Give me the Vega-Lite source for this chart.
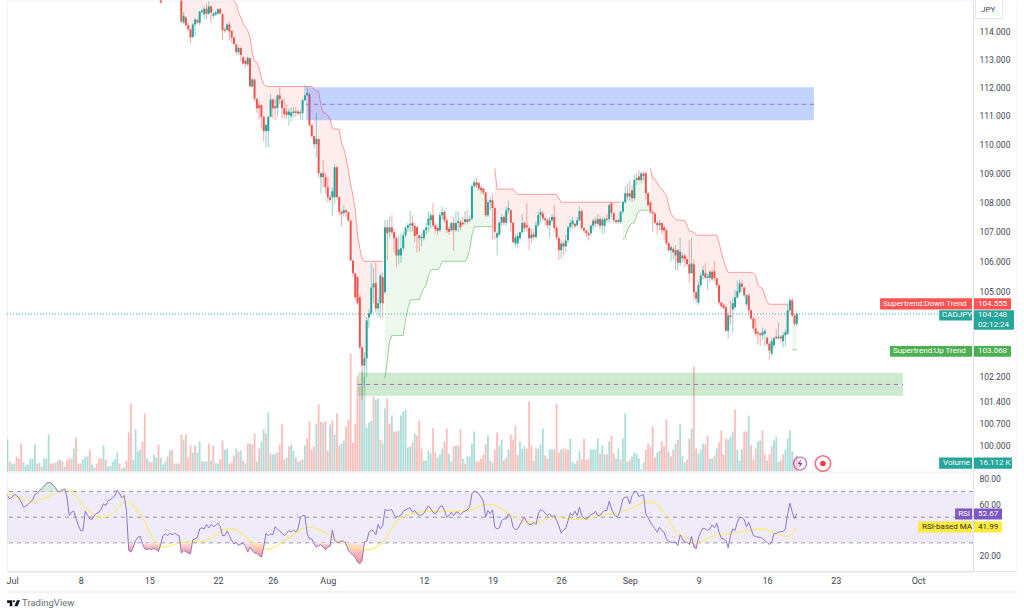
{
"$schema":"https://vega.github.io/schema/vega-lite/v6.json",
"background":"#ffffff",
"padding":{"left":4,"top":-1.5,"right":0,"bottom":0},
"spacing":1,
"bounds":"flush",
"config":{"view":{"stroke":"#f0f3fa"},"text":{"font":"Roboto"},"axis":{"labelFont":"Roboto","labelFontSize":8.5,"labelColor":"#434651"}},
"datasets":{
"candles":[
{"i":65,"o":115.2,"h":115.4,"l":115.0,"c":115.05,"st":117.2,"seg":"d1"},
{"i":74,"o":115.2,"h":115.3,"l":114.3,"c":114.36,"st":116.6,"seg":"d1"},
{"i":75,"o":114.32,"h":114.7,"l":114.28,"c":114.57,"st":116.5,"seg":"d1"},
{"i":76,"o":114.5,"h":114.55,"l":114.18,"c":114.22,"st":116.4,"seg":"d1"},
{"i":77,"o":114.22,"h":114.3,"l":114.0,"c":114.07,"st":116.3,"seg":"d1"},
{"i":78,"o":114.07,"h":114.1,"l":113.57,"c":113.78,"st":116.2,"seg":"d1"},
{"i":79,"o":113.8,"h":114.3,"l":113.75,"c":114.25,"st":116.1,"seg":"d1"},
{"i":80,"o":114.25,"h":114.5,"l":113.85,"c":114.43,"st":116.0,"seg":"d1"},
{"i":81,"o":114.4,"h":114.45,"l":114.25,"c":114.32,"st":115.95,"seg":"d1"},
{"i":82,"o":114.3,"h":114.75,"l":114.2,"c":114.72,"st":115.9,"seg":"d1"},
{"i":83,"o":114.7,"h":114.8,"l":114.65,"c":114.76,"st":115.85,"seg":"d1"},
{"i":84,"o":114.62,"h":114.9,"l":114.45,"c":114.82,"st":115.8,"seg":"d1"},
{"i":85,"o":114.82,"h":115.0,"l":114.45,"c":114.64,"st":115.75,"seg":"d1"},
{"i":86,"o":114.64,"h":115.1,"l":114.6,"c":114.9,"st":115.7,"seg":"d1"},
{"i":87,"o":114.9,"h":114.95,"l":114.3,"c":114.68,"st":115.65,"seg":"d1"},
{"i":88,"o":114.57,"h":114.7,"l":114.45,"c":114.64,"st":115.6,"seg":"d1"},
{"i":89,"o":114.6,"h":114.75,"l":114.55,"c":114.68,"st":115.55,"seg":"d1"},
{"i":90,"o":114.65,"h":114.85,"l":114.6,"c":114.8,"st":115.5,"seg":"d1"},
{"i":91,"o":114.8,"h":114.85,"l":114.6,"c":114.65,"st":115.45,"seg":"d1"},
{"i":92,"o":114.62,"h":114.65,"l":113.7,"c":114.04,"st":115.4,"seg":"d1"},
{"i":93,"o":114.07,"h":114.15,"l":113.95,"c":114.02,"st":115.35,"seg":"d1"},
{"i":94,"o":114.05,"h":114.3,"l":114.0,"c":114.25,"st":115.3,"seg":"d1"},
{"i":95,"o":114.25,"h":114.35,"l":113.7,"c":114.0,"st":115.25,"seg":"d1"},
{"i":96,"o":114.02,"h":114.05,"l":113.6,"c":113.77,"st":115.18,"seg":"d1"},
{"i":97,"o":113.78,"h":113.8,"l":113.5,"c":113.55,"st":115.11,"seg":"d1"},
{"i":98,"o":113.53,"h":113.55,"l":113.15,"c":113.25,"st":115.0,"seg":"d1"},
{"i":99,"o":113.25,"h":113.45,"l":113.15,"c":113.4,"st":114.68,"seg":"d1"},
{"i":100,"o":113.4,"h":113.45,"l":112.95,"c":113.15,"st":114.5,"seg":"d1"},
{"i":101,"o":113.07,"h":113.1,"l":112.8,"c":112.85,"st":114.29,"seg":"d1"},
{"i":102,"o":112.95,"h":113.0,"l":112.7,"c":112.82,"st":114.14,"seg":"d1"},
{"i":103,"o":112.82,"h":113.1,"l":112.75,"c":113.05,"st":114.04,"seg":"d1"},
{"i":104,"o":113.03,"h":113.05,"l":112.0,"c":112.04,"st":113.79,"seg":"d1"},
{"i":105,"o":112.03,"h":112.35,"l":112.0,"c":112.28,"st":113.25,"seg":"d1"},
{"i":106,"o":112.28,"h":112.3,"l":111.5,"c":111.6,"st":112.93,"seg":"d1"},
{"i":107,"o":111.6,"h":111.62,"l":111.1,"c":111.26,"st":112.89,"seg":"d1"},
{"i":108,"o":111.37,"h":111.5,"l":110.85,"c":111.26,"st":112.68,"seg":"d1"},
{"i":109,"o":111.37,"h":111.4,"l":110.55,"c":110.95,"st":112.32,"seg":"d1"},
{"i":110,"o":110.95,"h":111.0,"l":110.1,"c":110.46,"st":112.11,"seg":"d1"},
{"i":111,"o":110.46,"h":110.7,"l":109.9,"c":110.67,"st":112.04,"seg":"d1"},
{"i":112,"o":110.46,"h":111.0,"l":109.9,"c":110.95,"st":112.03,"seg":"d1"},
{"i":113,"o":110.95,"h":111.75,"l":110.95,"c":111.57,"st":112.03,"seg":"d1"},
{"i":114,"o":111.57,"h":111.6,"l":110.9,"c":111.26,"st":112.03,"seg":"d1"},
{"i":115,"o":111.33,"h":111.6,"l":110.85,"c":111.26,"st":112.03,"seg":"d1"},
{"i":116,"o":111.26,"h":111.75,"l":110.95,"c":111.72,"st":112.03,"seg":"d1"},
{"i":117,"o":111.72,"h":112.0,"l":111.4,"c":111.58,"st":112.03,"seg":"d1"},
{"i":118,"o":111.54,"h":111.6,"l":110.9,"c":111.26,"st":112.03,"seg":"d1"},
{"i":119,"o":111.26,"h":111.6,"l":110.9,"c":111.05,"st":112.03,"seg":"d1"},
{"i":120,"o":111.15,"h":111.4,"l":110.9,"c":111.02,"st":112.03,"seg":"d1"},
{"i":121,"o":111.02,"h":111.25,"l":110.65,"c":111.15,"st":112.03,"seg":"d1"},
{"i":122,"o":110.98,"h":111.3,"l":110.8,"c":111.12,"st":112.03,"seg":"d1"},
{"i":123,"o":111.09,"h":111.3,"l":110.95,"c":111.15,"st":112.03,"seg":"d1"},
{"i":124,"o":111.15,"h":111.3,"l":110.95,"c":111.09,"st":112.03,"seg":"d1"},
{"i":125,"o":111.15,"h":111.2,"l":111.0,"c":111.08,"st":112.03,"seg":"d1"},
{"i":126,"o":111.08,"h":111.2,"l":110.85,"c":111.12,"st":112.03,"seg":"d1"},
{"i":127,"o":111.09,"h":111.6,"l":110.85,"c":111.54,"st":112.03,"seg":"d1"},
{"i":128,"o":111.54,"h":112.1,"l":111.5,"c":111.72,"st":112.03,"seg":"d1"},
{"i":129,"o":111.72,"h":112.04,"l":111.7,"c":111.8,"st":112.03,"seg":"d1"},
{"i":130,"o":111.75,"h":111.8,"l":110.6,"c":110.67,"st":112.03,"seg":"d1"},
{"i":131,"o":110.67,"h":110.7,"l":110.25,"c":110.28,"st":112.03,"seg":"d1"},
{"i":132,"o":110.28,"h":110.3,"l":109.85,"c":110.0,"st":111.93,"seg":"d1"},
{"i":133,"o":110.0,"h":111.1,"l":109.55,"c":110.18,"st":111.86,"seg":"d1"},
{"i":134,"o":110.18,"h":110.2,"l":108.85,"c":109.0,"st":111.86,"seg":"d1"},
{"i":135,"o":108.86,"h":109.05,"l":108.3,"c":109.0,"st":111.37,"seg":"d1"},
{"i":136,"o":109.0,"h":109.45,"l":108.5,"c":108.86,"st":111.09,"seg":"d1"},
{"i":137,"o":108.86,"h":109.0,"l":108.3,"c":108.52,"st":111.09,"seg":"d1"},
{"i":138,"o":108.52,"h":108.86,"l":108.0,"c":108.17,"st":111.02,"seg":"d1"},
{"i":139,"o":108.17,"h":108.25,"l":108.0,"c":108.08,"st":110.88,"seg":"d1"},
{"i":140,"o":108.17,"h":108.5,"l":107.55,"c":108.38,"st":110.56,"seg":"d1"},
{"i":141,"o":108.17,"h":109.3,"l":107.95,"c":109.2,"st":110.53,"seg":"d1"},
{"i":142,"o":109.2,"h":109.25,"l":108.1,"c":108.17,"st":110.53,"seg":"d1"},
{"i":143,"o":108.17,"h":108.2,"l":107.55,"c":107.68,"st":110.53,"seg":"d1"},
{"i":144,"o":107.68,"h":107.72,"l":107.2,"c":107.6,"st":110.03,"seg":"d1"},
{"i":145,"o":107.63,"h":107.9,"l":107.5,"c":107.73,"st":109.86,"seg":"d1"},
{"i":146,"o":107.73,"h":107.75,"l":107.5,"c":107.66,"st":109.52,"seg":"d1"},
{"i":147,"o":107.66,"h":107.68,"l":107.35,"c":107.38,"st":109.1,"seg":"d1"},
{"i":148,"o":107.38,"h":107.4,"l":106.0,"c":106.03,"st":108.59,"seg":"d1"},
{"i":149,"o":106.03,"h":106.05,"l":105.5,"c":105.6,"st":108.24,"seg":"d1"},
{"i":150,"o":105.6,"h":105.6,"l":104.7,"c":104.8,"st":107.73,"seg":"d1"},
{"i":151,"o":105.47,"h":105.5,"l":104.55,"c":104.6,"st":106.88,"seg":"d1"},
{"i":152,"o":104.8,"h":104.9,"l":103.1,"c":103.15,"st":106.44,"seg":"d1"},
{"i":153,"o":103.15,"h":103.2,"l":101.45,"c":102.56,"st":106.07,"seg":"d1"},
{"i":154,"o":102.56,"h":103.0,"l":101.9,"c":102.8,"st":106.0,"seg":"d1"},
{"i":155,"o":102.8,"h":104.15,"l":102.2,"c":104.03,"st":106.0,"seg":"d1"},
{"i":156,"o":104.13,"h":104.4,"l":103.8,"c":104.27,"st":106.0,"seg":"d1"},
{"i":157,"o":104.27,"h":105.95,"l":104.2,"c":105.13,"st":106.0,"seg":"d1"},
{"i":158,"o":105.13,"h":105.8,"l":104.6,"c":105.27,"st":106.0,"seg":"d1"},
{"i":159,"o":105.27,"h":105.95,"l":104.3,"c":104.43,"st":106.0,"seg":"d1"},
{"i":160,"o":104.43,"h":104.8,"l":104.15,"c":104.6,"st":106.0,"seg":"d1"},
{"i":161,"o":104.6,"h":105.6,"l":104.1,"c":105.53,"st":106.0,"seg":"d1"},
{"i":162,"o":105.47,"h":105.6,"l":104.1,"c":104.6,"st":106.0,"seg":"d1"},
{"i":163,"o":104.97,"h":107.39,"l":104.9,"c":107.15,"st":102.15,"seg":"u1"},
{"i":164,"o":107.15,"h":107.4,"l":106.03,"c":106.95,"st":102.72,"seg":"u1"},
{"i":165,"o":107.0,"h":107.5,"l":106.8,"c":107.15,"st":103.33,"seg":"u1"},
{"i":166,"o":107.15,"h":107.56,"l":106.9,"c":106.98,"st":103.54,"seg":"u1"},
{"i":167,"o":106.98,"h":107.1,"l":106.3,"c":106.78,"st":103.54,"seg":"u1"},
{"i":168,"o":106.78,"h":106.85,"l":105.8,"c":106.2,"st":103.54,"seg":"u1"},
{"i":169,"o":106.2,"h":106.85,"l":105.9,"c":106.4,"st":103.54,"seg":"u1"},
{"i":170,"o":106.2,"h":106.95,"l":105.95,"c":106.44,"st":103.54,"seg":"u1"},
{"i":171,"o":106.44,"h":107.0,"l":106.35,"c":106.88,"st":103.54,"seg":"u1"},
{"i":172,"o":106.88,"h":107.2,"l":106.8,"c":107.12,"st":104.03,"seg":"u1"},
{"i":173,"o":107.12,"h":107.3,"l":107.0,"c":107.22,"st":104.43,"seg":"u1"},
{"i":174,"o":107.22,"h":107.7,"l":107.0,"c":107.27,"st":104.7,"seg":"u1"},
{"i":175,"o":107.29,"h":107.55,"l":107.0,"c":107.19,"st":104.72,"seg":"u1"},
{"i":176,"o":107.19,"h":107.3,"l":106.65,"c":106.85,"st":104.72,"seg":"u1"},
{"i":177,"o":107.15,"h":107.2,"l":106.3,"c":106.9,"st":104.72,"seg":"u1"},
{"i":178,"o":106.88,"h":106.9,"l":106.35,"c":106.78,"st":104.72,"seg":"u1"},
{"i":179,"o":106.78,"h":106.95,"l":106.5,"c":106.82,"st":104.97,"seg":"u1"},
{"i":180,"o":106.78,"h":107.1,"l":106.7,"c":107.05,"st":105.1,"seg":"u1"},
{"i":181,"o":107.05,"h":107.3,"l":106.9,"c":107.15,"st":105.2,"seg":"u1"},
{"i":182,"o":107.22,"h":107.7,"l":107.0,"c":107.45,"st":105.53,"seg":"u1"},
{"i":183,"o":107.39,"h":107.65,"l":107.1,"c":107.56,"st":105.7,"seg":"u1"},
{"i":184,"o":107.56,"h":107.97,"l":107.15,"c":107.22,"st":105.73,"seg":"u1"},
{"i":185,"o":107.22,"h":107.3,"l":106.95,"c":107.08,"st":105.73,"seg":"u1"},
{"i":186,"o":107.12,"h":107.2,"l":106.9,"c":107.02,"st":105.73,"seg":"u1"},
{"i":187,"o":107.05,"h":107.65,"l":107.0,"c":107.56,"st":105.8,"seg":"u1"},
{"i":188,"o":107.56,"h":107.85,"l":107.4,"c":107.67,"st":106.0,"seg":"u1"},
{"i":189,"o":107.67,"h":107.75,"l":107.3,"c":107.39,"st":106.0,"seg":"u1"},
{"i":190,"o":107.39,"h":107.5,"l":106.95,"c":107.05,"st":106.0,"seg":"u1"},
{"i":191,"o":107.1,"h":107.2,"l":106.9,"c":107.0,"st":106.0,"seg":"u1"},
{"i":192,"o":107.05,"h":107.35,"l":107.0,"c":107.29,"st":106.0,"seg":"u1"},
{"i":193,"o":107.29,"h":107.5,"l":106.35,"c":107.05,"st":106.0,"seg":"u1"},
{"i":194,"o":107.05,"h":107.7,"l":107.0,"c":107.29,"st":106.0,"seg":"u1"},
{"i":195,"o":107.29,"h":107.7,"l":107.0,"c":107.35,"st":106.0,"seg":"u1"},
{"i":196,"o":107.33,"h":107.4,"l":107.05,"c":107.15,"st":106.0,"seg":"u1"},
{"i":197,"o":107.3,"h":107.5,"l":107.2,"c":107.25,"st":106.0,"seg":"u1"},
{"i":198,"o":107.33,"h":107.7,"l":107.25,"c":107.42,"st":106.0,"seg":"u1"},
{"i":199,"o":107.42,"h":107.75,"l":107.25,"c":107.33,"st":106.13,"seg":"u1"},
{"i":200,"o":107.38,"h":107.55,"l":107.3,"c":107.44,"st":106.37,"seg":"u1"},
{"i":201,"o":107.44,"h":108.6,"l":107.4,"c":108.55,"st":106.88,"seg":"u1"},
{"i":202,"o":108.55,"h":108.8,"l":108.5,"c":108.69,"st":107.15,"seg":"u1"},
{"i":203,"o":108.69,"h":108.85,"l":108.5,"c":108.58,"st":107.17,"seg":"u1"},
{"i":204,"o":108.65,"h":108.7,"l":108.4,"c":108.47,"st":107.17,"seg":"u1"},
{"i":205,"o":108.5,"h":108.55,"l":108.3,"c":108.41,"st":107.17,"seg":"u1"},
{"i":206,"o":108.47,"h":108.5,"l":108.25,"c":108.33,"st":107.17,"seg":"u1"},
{"i":207,"o":108.33,"h":108.35,"l":107.5,"c":107.56,"st":107.17,"seg":"u1"},
{"i":208,"o":107.56,"h":108.1,"l":107.5,"c":108.0,"st":107.17,"seg":"u1"},
{"i":209,"o":108.0,"h":108.2,"l":107.75,"c":108.07,"st":107.17,"seg":"u1"},
{"i":210,"o":108.07,"h":108.3,"l":106.75,"c":107.8,"st":107.17,"seg":"u1"},
{"i":211,"o":107.8,"h":107.85,"l":106.75,"c":107.0,"st":109.17,"seg":"d2"},
{"i":212,"o":106.8,"h":107.0,"l":106.2,"c":106.95,"st":108.45,"seg":"d2"},
{"i":213,"o":106.9,"h":107.35,"l":106.85,"c":107.3,"st":108.45,"seg":"d2"},
{"i":214,"o":107.3,"h":107.6,"l":107.2,"c":107.5,"st":108.45,"seg":"d2"},
{"i":215,"o":107.5,"h":107.55,"l":107.2,"c":107.3,"st":108.45,"seg":"d2"},
{"i":216,"o":107.3,"h":107.85,"l":107.2,"c":107.73,"st":108.45,"seg":"d2"},
{"i":217,"o":107.73,"h":108.05,"l":107.6,"c":107.8,"st":108.45,"seg":"d2"},
{"i":218,"o":107.73,"h":107.75,"l":107.0,"c":107.3,"st":108.45,"seg":"d2"},
{"i":219,"o":107.3,"h":107.35,"l":106.6,"c":106.65,"st":108.45,"seg":"d2"},
{"i":220,"o":106.6,"h":106.9,"l":106.5,"c":106.8,"st":108.34,"seg":"d2"},
{"i":221,"o":106.6,"h":106.95,"l":106.47,"c":106.85,"st":108.27,"seg":"d2"},
{"i":222,"o":106.78,"h":107.0,"l":106.7,"c":106.98,"st":108.27,"seg":"d2"},
{"i":223,"o":106.98,"h":107.6,"l":106.95,"c":107.29,"st":108.27,"seg":"d2"},
{"i":224,"o":107.29,"h":107.35,"l":107.0,"c":107.12,"st":108.27,"seg":"d2"},
{"i":225,"o":107.22,"h":107.97,"l":107.0,"c":107.15,"st":108.27,"seg":"d2"},
{"i":226,"o":107.12,"h":107.15,"l":106.37,"c":106.78,"st":108.27,"seg":"d2"},
{"i":227,"o":106.78,"h":107.1,"l":106.6,"c":106.9,"st":108.27,"seg":"d2"},
{"i":228,"o":106.9,"h":107.0,"l":106.7,"c":106.82,"st":108.27,"seg":"d2"},
{"i":229,"o":106.82,"h":107.35,"l":106.75,"c":107.22,"st":108.27,"seg":"d2"},
{"i":230,"o":107.22,"h":107.7,"l":107.15,"c":107.56,"st":108.27,"seg":"d2"},
{"i":231,"o":107.56,"h":107.8,"l":107.3,"c":107.67,"st":108.27,"seg":"d2"},
{"i":232,"o":107.62,"h":107.7,"l":107.35,"c":107.45,"st":108.27,"seg":"d2"},
{"i":233,"o":107.45,"h":107.5,"l":107.2,"c":107.39,"st":108.27,"seg":"d2"},
{"i":234,"o":107.39,"h":107.45,"l":107.1,"c":107.22,"st":108.27,"seg":"d2"},
{"i":235,"o":107.22,"h":107.5,"l":106.8,"c":107.39,"st":108.27,"seg":"d2"},
{"i":236,"o":107.39,"h":107.6,"l":107.3,"c":107.5,"st":108.27,"seg":"d2"},
{"i":237,"o":107.5,"h":107.9,"l":107.0,"c":107.12,"st":108.27,"seg":"d2"},
{"i":238,"o":107.12,"h":107.2,"l":106.7,"c":106.8,"st":108.27,"seg":"d2"},
{"i":239,"o":106.78,"h":106.85,"l":106.05,"c":106.37,"st":108.14,"seg":"d2"},
{"i":240,"o":106.37,"h":106.7,"l":106.1,"c":106.6,"st":108.0,"seg":"d2"},
{"i":241,"o":106.6,"h":106.65,"l":106.2,"c":106.5,"st":108.0,"seg":"d2"},
{"i":242,"o":106.5,"h":106.9,"l":106.3,"c":106.7,"st":108.0,"seg":"d2"},
{"i":243,"o":106.71,"h":107.2,"l":106.6,"c":107.15,"st":108.0,"seg":"d2"},
{"i":244,"o":107.15,"h":107.4,"l":107.0,"c":107.3,"st":108.0,"seg":"d2"},
{"i":245,"o":107.25,"h":107.5,"l":107.1,"c":107.38,"st":108.0,"seg":"d2"},
{"i":246,"o":107.27,"h":107.3,"l":107.1,"c":107.18,"st":108.0,"seg":"d2"},
{"i":247,"o":107.22,"h":107.5,"l":107.15,"c":107.39,"st":108.0,"seg":"d2"},
{"i":248,"o":107.39,"h":107.85,"l":107.35,"c":107.7,"st":108.0,"seg":"d2"},
{"i":249,"o":107.7,"h":107.75,"l":107.05,"c":107.12,"st":108.0,"seg":"d2"},
{"i":250,"o":107.12,"h":107.15,"l":106.95,"c":107.03,"st":108.0,"seg":"d2"},
{"i":251,"o":107.03,"h":107.05,"l":106.8,"c":106.95,"st":108.0,"seg":"d2"},
{"i":252,"o":106.95,"h":107.0,"l":106.7,"c":106.88,"st":108.0,"seg":"d2"},
{"i":253,"o":106.95,"h":107.25,"l":106.85,"c":107.2,"st":108.0,"seg":"d2"},
{"i":254,"o":107.2,"h":107.45,"l":107.05,"c":107.38,"st":108.0,"seg":"d2"},
{"i":255,"o":107.38,"h":107.5,"l":107.15,"c":107.27,"st":108.0,"seg":"d2"},
{"i":256,"o":107.27,"h":107.6,"l":107.2,"c":107.43,"st":108.0,"seg":"d2"},
{"i":257,"o":107.43,"h":107.55,"l":107.05,"c":107.2,"st":108.0,"seg":"d2"},
{"i":258,"o":107.2,"h":107.5,"l":106.9,"c":107.4,"st":108.0,"seg":"d2"},
{"i":259,"o":107.2,"h":107.5,"l":106.95,"c":107.43,"st":108.0,"seg":"d2"},
{"i":260,"o":107.45,"h":107.6,"l":107.3,"c":107.4,"st":108.0,"seg":"d2"},
{"i":261,"o":107.42,"h":107.95,"l":107.3,"c":107.9,"st":108.0,"seg":"d2"},
{"i":262,"o":107.97,"h":108.0,"l":107.5,"c":107.63,"st":108.0,"seg":"d2"},
{"i":263,"o":107.63,"h":107.65,"l":107.3,"c":107.39,"st":108.0,"seg":"d2"},
{"i":264,"o":107.39,"h":107.42,"l":107.25,"c":107.33,"st":108.0,"seg":"d2"},
{"i":265,"o":107.33,"h":107.45,"l":107.25,"c":107.39,"st":108.0,"seg":"d2"},
{"i":266,"o":107.33,"h":107.72,"l":107.25,"c":107.68,"st":108.0,"seg":"d2"},
{"i":267,"o":107.68,"h":108.05,"l":107.6,"c":108.02,"st":106.73,"seg":"u2"},
{"i":268,"o":108.0,"h":108.55,"l":107.95,"c":108.31,"st":106.8,"seg":"u2"},
{"i":269,"o":108.31,"h":108.65,"l":108.1,"c":108.2,"st":107.05,"seg":"u2"},
{"i":270,"o":108.2,"h":108.75,"l":108.05,"c":108.31,"st":107.22,"seg":"u2"},
{"i":271,"o":108.41,"h":108.6,"l":108.0,"c":108.14,"st":107.29,"seg":"u2"},
{"i":272,"o":108.14,"h":108.95,"l":108.05,"c":108.76,"st":107.3,"seg":"u2"},
{"i":273,"o":108.76,"h":109.0,"l":108.6,"c":108.82,"st":107.56,"seg":"u2"},
{"i":274,"o":108.88,"h":109.1,"l":108.7,"c":108.76,"st":107.7,"seg":"u2"},
{"i":275,"o":108.76,"h":109.05,"l":108.65,"c":109.0,"st":107.73,"seg":"u2"},
{"i":276,"o":108.98,"h":109.05,"l":108.75,"c":108.9,"st":107.73,"seg":"u2"},
{"i":277,"o":109.0,"h":109.05,"l":108.1,"c":108.31,"st":107.73,"seg":"u2"},
{"i":278,"o":108.31,"h":108.35,"l":107.85,"c":107.9,"st":107.73,"seg":"u2"},
{"i":279,"o":108.0,"h":108.05,"l":107.6,"c":107.67,"st":109.17,"seg":"d3"},
{"i":280,"o":107.67,"h":107.75,"l":107.0,"c":107.62,"st":108.83,"seg":"d3"},
{"i":281,"o":107.62,"h":107.65,"l":107.25,"c":107.3,"st":108.8,"seg":"d3"},
{"i":282,"o":107.3,"h":107.35,"l":106.9,"c":107.22,"st":108.66,"seg":"d3"},
{"i":283,"o":107.22,"h":107.4,"l":107.05,"c":107.29,"st":108.52,"seg":"d3"},
{"i":284,"o":107.29,"h":107.3,"l":106.9,"c":107.05,"st":108.45,"seg":"d3"},
{"i":285,"o":107.15,"h":107.2,"l":106.7,"c":107.03,"st":108.34,"seg":"d3"},
{"i":286,"o":107.05,"h":107.1,"l":106.55,"c":106.61,"st":108.24,"seg":"d3"},
{"i":287,"o":106.61,"h":106.65,"l":106.3,"c":106.37,"st":107.9,"seg":"d3"},
{"i":288,"o":106.37,"h":106.55,"l":106.0,"c":106.47,"st":107.6,"seg":"d3"},
{"i":289,"o":106.42,"h":106.5,"l":106.05,"c":106.3,"st":107.5,"seg":"d3"},
{"i":290,"o":106.2,"h":106.55,"l":105.7,"c":106.37,"st":107.42,"seg":"d3"},
{"i":291,"o":106.37,"h":106.4,"l":105.7,"c":105.95,"st":107.39,"seg":"d3"},
{"i":292,"o":105.95,"h":106.8,"l":105.85,"c":106.33,"st":107.39,"seg":"d3"},
{"i":293,"o":106.2,"h":106.3,"l":105.95,"c":106.1,"st":107.39,"seg":"d3"},
{"i":294,"o":106.2,"h":106.25,"l":105.8,"c":106.07,"st":107.39,"seg":"d3"},
{"i":295,"o":106.07,"h":106.15,"l":105.85,"c":105.9,"st":107.22,"seg":"d3"},
{"i":296,"o":105.9,"h":106.7,"l":105.27,"c":105.6,"st":107.02,"seg":"d3"},
{"i":297,"o":105.6,"h":106.8,"l":105.6,"c":105.93,"st":107.0,"seg":"d3"},
{"i":298,"o":105.9,"h":106.05,"l":104.7,"c":104.97,"st":106.98,"seg":"d3"},
{"i":299,"o":104.97,"h":105.0,"l":104.6,"c":104.75,"st":106.88,"seg":"d3"},
{"i":300,"o":104.63,"h":105.3,"l":104.55,"c":105.2,"st":106.88,"seg":"d3"},
{"i":301,"o":105.2,"h":105.6,"l":105.15,"c":105.53,"st":106.88,"seg":"d3"},
{"i":302,"o":105.53,"h":105.85,"l":105.4,"c":105.7,"st":106.88,"seg":"d3"},
{"i":303,"o":105.6,"h":105.95,"l":105.4,"c":105.45,"st":106.88,"seg":"d3"},
{"i":304,"o":105.45,"h":105.6,"l":105.05,"c":105.5,"st":106.88,"seg":"d3"},
{"i":305,"o":105.45,"h":105.7,"l":105.3,"c":105.65,"st":106.88,"seg":"d3"},
{"i":306,"o":105.65,"h":105.75,"l":105.35,"c":105.4,"st":106.88,"seg":"d3"},
{"i":307,"o":105.67,"h":106.0,"l":105.35,"c":105.43,"st":106.88,"seg":"d3"},
{"i":308,"o":105.43,"h":105.45,"l":105.1,"c":105.2,"st":106.88,"seg":"d3"},
{"i":309,"o":105.2,"h":105.25,"l":104.55,"c":104.63,"st":106.64,"seg":"d3"},
{"i":310,"o":104.63,"h":104.65,"l":104.45,"c":104.5,"st":106.3,"seg":"d3"},
{"i":311,"o":104.55,"h":104.6,"l":104.4,"c":104.45,"st":106.03,"seg":"d3"},
{"i":312,"o":104.47,"h":104.5,"l":103.65,"c":103.7,"st":105.8,"seg":"d3"},
{"i":313,"o":103.7,"h":104.3,"l":103.45,"c":104.2,"st":105.63,"seg":"d3"},
{"i":314,"o":104.2,"h":104.7,"l":103.9,"c":104.15,"st":105.63,"seg":"d3"},
{"i":315,"o":104.4,"h":104.8,"l":103.65,"c":104.6,"st":105.63,"seg":"d3"},
{"i":316,"o":104.47,"h":105.05,"l":104.4,"c":104.8,"st":105.63,"seg":"d3"},
{"i":317,"o":104.8,"h":105.35,"l":104.75,"c":105.0,"st":105.63,"seg":"d3"},
{"i":318,"o":104.97,"h":105.4,"l":104.9,"c":105.27,"st":105.63,"seg":"d3"},
{"i":319,"o":105.25,"h":105.35,"l":105.0,"c":105.15,"st":105.63,"seg":"d3"},
{"i":320,"o":105.13,"h":105.15,"l":104.8,"c":104.87,"st":105.63,"seg":"d3"},
{"i":321,"o":104.57,"h":104.9,"l":104.5,"c":104.87,"st":105.63,"seg":"d3"},
{"i":322,"o":104.87,"h":104.95,"l":104.2,"c":104.37,"st":105.63,"seg":"d3"},
{"i":323,"o":104.37,"h":104.4,"l":104.05,"c":104.1,"st":105.63,"seg":"d3"},
{"i":324,"o":104.1,"h":104.15,"l":103.7,"c":103.77,"st":105.6,"seg":"d3"},
{"i":325,"o":103.77,"h":104.1,"l":103.5,"c":103.6,"st":105.53,"seg":"d3"},
{"i":326,"o":103.65,"h":103.7,"l":103.25,"c":103.6,"st":105.2,"seg":"d3"},
{"i":327,"o":103.6,"h":103.65,"l":103.2,"c":103.55,"st":105.13,"seg":"d3"},
{"i":328,"o":103.55,"h":103.8,"l":103.4,"c":103.65,"st":105.1,"seg":"d3"},
{"i":329,"o":103.6,"h":103.75,"l":103.2,"c":103.7,"st":104.87,"seg":"d3"},
{"i":330,"o":103.47,"h":103.5,"l":103.2,"c":103.27,"st":104.63,"seg":"d3"},
{"i":331,"o":103.27,"h":103.3,"l":102.75,"c":103.05,"st":104.57,"seg":"d3"},
{"i":332,"o":102.95,"h":103.45,"l":102.85,"c":103.35,"st":104.57,"seg":"d3"},
{"i":333,"o":103.22,"h":103.5,"l":103.1,"c":103.45,"st":104.57,"seg":"d3"},
{"i":334,"o":103.5,"h":103.75,"l":103.4,"c":103.45,"st":104.57,"seg":"d3"},
{"i":335,"o":103.45,"h":103.95,"l":103.4,"c":103.5,"st":104.57,"seg":"d3"},
{"i":336,"o":103.5,"h":103.55,"l":103.3,"c":103.45,"st":104.57,"seg":"d3"},
{"i":337,"o":103.35,"h":103.65,"l":103.15,"c":103.55,"st":104.57,"seg":"d3"},
{"i":338,"o":103.55,"h":103.75,"l":103.2,"c":103.65,"st":104.57,"seg":"d3"},
{"i":339,"o":103.6,"h":104.55,"l":103.55,"c":104.37,"st":104.57,"seg":"d3"},
{"i":340,"o":104.37,"h":104.78,"l":104.3,"c":104.7,"st":104.57,"seg":"d3"},
{"i":341,"o":104.7,"h":104.8,"l":104.15,"c":104.2,"st":103.07,"seg":"u3"},
{"i":342,"o":104.2,"h":104.25,"l":103.85,"c":103.93,"st":103.07,"seg":"u3"},
{"i":343,"o":103.93,"h":104.35,"l":103.85,"c":104.25,"st":103.07,"seg":"u3"}
],
"volume":[
{"i":-2,"v":32,"d":"u"},{"i":-1,"v":10,"d":"d"},{"i":0,"v":8,"d":"u"},{"i":1,"v":8,"d":"u"},{"i":2,"v":15,"d":"d"},{"i":3,"v":13,"d":"d"},{"i":4,"v":28,"d":"d"},{"i":5,"v":9,"d":"u"},{"i":6,"v":6,"d":"u"},{"i":7,"v":7,"d":"u"},{"i":8,"v":13,"d":"u"},{"i":9,"v":13,"d":"u"},{"i":10,"v":27,"d":"u"},{"i":11,"v":8,"d":"d"},{"i":12,"v":9,"d":"u"},{"i":13,"v":5,"d":"d"},{"i":14,"v":13,"d":"u"},{"i":15,"v":13,"d":"u"},{"i":16,"v":37,"d":"u"},{"i":17,"v":8,"d":"d"},{"i":18,"v":8,"d":"d"},{"i":19,"v":9,"d":"u"},{"i":20,"v":11,"d":"d"},{"i":21,"v":12,"d":"u"},{"i":22,"v":10,"d":"d"},{"i":23,"v":5,"d":"u"},{"i":24,"v":11,"d":"d"},{"i":25,"v":13,"d":"d"},{"i":26,"v":13,"d":"d"},{"i":27,"v":23,"d":"u"},{"i":28,"v":34,"d":"d"},{"i":29,"v":8,"d":"d"},{"i":30,"v":8,"d":"d"},{"i":31,"v":12,"d":"u"},{"i":32,"v":15,"d":"u"},{"i":33,"v":15,"d":"u"},{"i":34,"v":22,"d":"d"},{"i":35,"v":7,"d":"u"},{"i":36,"v":4,"d":"u"},{"i":37,"v":8,"d":"d"},{"i":38,"v":13,"d":"d"},{"i":39,"v":13,"d":"d"},{"i":40,"v":26,"d":"u"},{"i":41,"v":12,"d":"d"},{"i":42,"v":5,"d":"u"},{"i":43,"v":6,"d":"u"},{"i":44,"v":10,"d":"u"},{"i":45,"v":13,"d":"u"},{"i":46,"v":19,"d":"u"},{"i":47,"v":8,"d":"d"},{"i":48,"v":3,"d":"u"},{"i":49,"v":4,"d":"u"},
{"i":50,"v":11,"d":"d"},{"i":51,"v":39,"d":"d"},{"i":52,"v":68,"d":"d"},{"i":53,"v":12,"d":"u"},{"i":54,"v":42,"d":"u"},{"i":55,"v":20,"d":"u"},{"i":56,"v":22,"d":"u"},{"i":57,"v":30,"d":"d"},{"i":58,"v":58,"d":"d"},{"i":59,"v":13,"d":"u"},{"i":60,"v":10,"d":"d"},{"i":61,"v":9,"d":"d"},{"i":62,"v":17,"d":"u"},{"i":63,"v":14,"d":"u"},{"i":64,"v":27,"d":"d"},{"i":65,"v":14,"d":"u"},{"i":66,"v":7,"d":"u"},{"i":67,"v":10,"d":"u"},{"i":68,"v":15,"d":"d"},{"i":69,"v":21,"d":"u"},{"i":70,"v":22,"d":"d"},{"i":71,"v":8,"d":"d"},{"i":72,"v":8,"d":"u"},{"i":73,"v":8,"d":"d"},{"i":74,"v":37,"d":"d"},{"i":75,"v":32,"d":"u"},{"i":76,"v":37,"d":"d"},{"i":77,"v":14,"d":"d"},{"i":78,"v":26,"d":"d"},{"i":79,"v":19,"d":"u"},{"i":80,"v":26,"d":"d"},{"i":81,"v":19,"d":"u"},{"i":82,"v":30,"d":"u"},{"i":83,"v":10,"d":"d"},{"i":84,"v":10,"d":"u"},{"i":85,"v":10,"d":"u"},{"i":86,"v":28,"d":"d"},{"i":87,"v":11,"d":"u"},{"i":88,"v":26,"d":"d"},{"i":89,"v":8,"d":"u"},{"i":90,"v":8,"d":"u"},{"i":91,"v":12,"d":"d"},{"i":92,"v":31,"d":"d"},{"i":93,"v":22,"d":"u"},{"i":94,"v":23,"d":"u"},{"i":95,"v":8,"d":"d"},{"i":96,"v":9,"d":"d"},{"i":97,"v":16,"d":"d"},{"i":98,"v":23,"d":"u"},{"i":99,"v":20,"d":"d"},
{"i":100,"v":21,"d":"u"},{"i":101,"v":11,"d":"d"},{"i":102,"v":8,"d":"u"},{"i":103,"v":28,"d":"d"},{"i":104,"v":28,"d":"u"},{"i":105,"v":27,"d":"d"},{"i":106,"v":38,"d":"d"},{"i":107,"v":10,"d":"u"},{"i":108,"v":23,"d":"d"},{"i":109,"v":30,"d":"u"},{"i":110,"v":42,"d":"u"},{"i":111,"v":38,"d":"d"},{"i":112,"v":59,"d":"u"},{"i":113,"v":18,"d":"d"},{"i":114,"v":17,"d":"u"},{"i":115,"v":18,"d":"u"},{"i":116,"v":19,"d":"d"},{"i":117,"v":27,"d":"d"},{"i":118,"v":47,"d":"d"},{"i":119,"v":12,"d":"d"},{"i":120,"v":14,"d":"u"},{"i":121,"v":25,"d":"d"},{"i":122,"v":27,"d":"u"},{"i":123,"v":21,"d":"u"},{"i":124,"v":14,"d":"d"},{"i":125,"v":10,"d":"u"},{"i":126,"v":11,"d":"u"},{"i":127,"v":12,"d":"d"},{"i":128,"v":26,"d":"u"},{"i":129,"v":33,"d":"d"},{"i":130,"v":50,"d":"d"},{"i":131,"v":22,"d":"d"},{"i":132,"v":25,"d":"d"},{"i":133,"v":48,"d":"u"},{"i":134,"v":67,"d":"d"},{"i":135,"v":50,"d":"d"},{"i":136,"v":49,"d":"u"},{"i":137,"v":50,"d":"d"},{"i":138,"v":21,"d":"d"},{"i":139,"v":47,"d":"u"},{"i":140,"v":51,"d":"d"},{"i":141,"v":37,"d":"u"},{"i":142,"v":58,"d":"d"},{"i":143,"v":26,"d":"d"},{"i":144,"v":28,"d":"u"},{"i":145,"v":31,"d":"u"},{"i":146,"v":45,"d":"d"},{"i":147,"v":52,"d":"d"},{"i":148,"v":118,"d":"d"},{"i":149,"v":29,"d":"d"},
{"i":150,"v":48,"d":"d"},{"i":151,"v":95,"d":"d"},{"i":152,"v":85,"d":"d"},{"i":153,"v":100,"d":"u"},{"i":154,"v":95,"d":"u"},{"i":155,"v":44,"d":"u"},{"i":156,"v":49,"d":"u"},{"i":157,"v":51,"d":"u"},{"i":158,"v":75,"d":"d"},{"i":159,"v":72,"d":"u"},{"i":160,"v":73,"d":"u"},{"i":161,"v":32,"d":"d"},{"i":162,"v":28,"d":"u"},{"i":163,"v":63,"d":"u"},{"i":164,"v":73,"d":"d"},{"i":165,"v":48,"d":"d"},{"i":166,"v":56,"d":"u"},{"i":167,"v":40,"d":"d"},{"i":168,"v":40,"d":"d"},{"i":169,"v":41,"d":"u"},{"i":170,"v":56,"d":"u"},{"i":171,"v":60,"d":"u"},{"i":172,"v":62,"d":"u"},{"i":173,"v":24,"d":"u"},{"i":174,"v":25,"d":"u"},{"i":175,"v":29,"d":"d"},{"i":176,"v":38,"d":"u"},{"i":177,"v":36,"d":"d"},{"i":178,"v":51,"d":"d"},{"i":179,"v":23,"d":"d"},{"i":180,"v":11,"d":"u"},{"i":181,"v":11,"d":"u"},{"i":182,"v":21,"d":"u"},{"i":183,"v":18,"d":"u"},{"i":184,"v":43,"d":"d"},{"i":185,"v":19,"d":"d"},{"i":186,"v":14,"d":"u"},{"i":187,"v":17,"d":"u"},{"i":188,"v":23,"d":"u"},{"i":189,"v":30,"d":"d"},{"i":190,"v":43,"d":"d"},{"i":191,"v":18,"d":"u"},{"i":192,"v":10,"d":"u"},{"i":193,"v":25,"d":"d"},{"i":194,"v":26,"d":"u"},{"i":195,"v":26,"d":"d"},{"i":196,"v":42,"d":"d"},{"i":197,"v":13,"d":"u"},{"i":198,"v":8,"d":"d"},{"i":199,"v":15,"d":"u"},
{"i":200,"v":15,"d":"u"},{"i":201,"v":28,"d":"u"},{"i":202,"v":40,"d":"u"},{"i":203,"v":10,"d":"d"},{"i":204,"v":10,"d":"d"},{"i":205,"v":13,"d":"d"},{"i":206,"v":17,"d":"d"},{"i":207,"v":27,"d":"d"},{"i":208,"v":36,"d":"u"},{"i":209,"v":11,"d":"d"},{"i":210,"v":9,"d":"u"},{"i":211,"v":22,"d":"d"},{"i":212,"v":39,"d":"d"},{"i":213,"v":26,"d":"u"},{"i":214,"v":32,"d":"u"},{"i":215,"v":11,"d":"d"},{"i":216,"v":14,"d":"d"},{"i":217,"v":22,"d":"u"},{"i":218,"v":37,"d":"d"},{"i":219,"v":32,"d":"d"},{"i":220,"v":46,"d":"d"},{"i":221,"v":17,"d":"d"},{"i":222,"v":30,"d":"u"},{"i":223,"v":23,"d":"u"},{"i":224,"v":25,"d":"u"},{"i":225,"v":23,"d":"d"},{"i":226,"v":70,"d":"d"},{"i":227,"v":26,"d":"d"},{"i":228,"v":11,"d":"u"},{"i":229,"v":23,"d":"d"},{"i":230,"v":23,"d":"u"},{"i":231,"v":27,"d":"u"},{"i":232,"v":43,"d":"u"},{"i":233,"v":16,"d":"d"},{"i":234,"v":13,"d":"d"},{"i":235,"v":22,"d":"u"},{"i":236,"v":22,"d":"u"},{"i":237,"v":22,"d":"d"},{"i":238,"v":68,"d":"d"},{"i":239,"v":19,"d":"d"},{"i":240,"v":22,"d":"u"},{"i":241,"v":23,"d":"d"},{"i":242,"v":22,"d":"d"},{"i":243,"v":22,"d":"d"},{"i":244,"v":33,"d":"u"},{"i":245,"v":9,"d":"u"},{"i":246,"v":8,"d":"u"},{"i":247,"v":11,"d":"d"},{"i":248,"v":21,"d":"u"},{"i":249,"v":12,"d":"d"},
{"i":250,"v":33,"d":"d"},{"i":251,"v":12,"d":"d"},{"i":252,"v":13,"d":"d"},{"i":253,"v":22,"d":"u"},{"i":254,"v":22,"d":"u"},{"i":255,"v":22,"d":"u"},{"i":256,"v":33,"d":"u"},{"i":257,"v":18,"d":"d"},{"i":258,"v":26,"d":"u"},{"i":259,"v":17,"d":"u"},{"i":260,"v":17,"d":"d"},{"i":261,"v":30,"d":"u"},{"i":262,"v":36,"d":"d"},{"i":263,"v":18,"d":"d"},{"i":264,"v":13,"d":"u"},{"i":265,"v":23,"d":"u"},{"i":266,"v":12,"d":"d"},{"i":267,"v":33,"d":"u"},{"i":268,"v":58,"d":"u"},{"i":269,"v":10,"d":"u"},{"i":270,"v":12,"d":"d"},{"i":271,"v":15,"d":"u"},{"i":272,"v":19,"d":"u"},{"i":273,"v":18,"d":"u"},{"i":274,"v":13,"d":"u"},{"i":275,"v":2,"d":"u"},{"i":276,"v":9,"d":"u"},{"i":277,"v":22,"d":"d"},{"i":278,"v":28,"d":"d"},{"i":279,"v":25,"d":"d"},{"i":280,"v":45,"d":"d"},{"i":281,"v":14,"d":"d"},{"i":282,"v":19,"d":"u"},{"i":283,"v":21,"d":"u"},{"i":284,"v":30,"d":"d"},{"i":285,"v":25,"d":"d"},{"i":286,"v":52,"d":"d"},{"i":287,"v":20,"d":"u"},{"i":288,"v":15,"d":"d"},{"i":289,"v":22,"d":"d"},{"i":290,"v":28,"d":"u"},{"i":291,"v":32,"d":"d"},{"i":292,"v":47,"d":"u"},{"i":293,"v":16,"d":"u"},{"i":294,"v":9,"d":"u"},{"i":295,"v":12,"d":"d"},{"i":296,"v":33,"d":"d"},{"i":297,"v":43,"d":"u"},{"i":298,"v":105,"d":"d"},{"i":299,"v":23,"d":"d"},
{"i":300,"v":18,"d":"u"},{"i":301,"v":22,"d":"u"},{"i":302,"v":28,"d":"u"},{"i":303,"v":27,"d":"d"},{"i":304,"v":36,"d":"d"},{"i":305,"v":13,"d":"u"},{"i":306,"v":13,"d":"u"},{"i":307,"v":16,"d":"d"},{"i":308,"v":23,"d":"u"},{"i":309,"v":29,"d":"d"},{"i":310,"v":41,"d":"d"},{"i":311,"v":17,"d":"d"},{"i":312,"v":33,"d":"d"},{"i":313,"v":32,"d":"u"},{"i":314,"v":35,"d":"u"},{"i":315,"v":40,"d":"u"},{"i":316,"v":62,"d":"d"},{"i":317,"v":22,"d":"u"},{"i":318,"v":11,"d":"u"},{"i":319,"v":22,"d":"u"},{"i":320,"v":40,"d":"d"},{"i":321,"v":40,"d":"d"},{"i":322,"v":56,"d":"u"},{"i":323,"v":26,"d":"d"},{"i":324,"v":12,"d":"d"},{"i":325,"v":23,"d":"d"},{"i":326,"v":30,"d":"u"},{"i":327,"v":31,"d":"u"},{"i":328,"v":41,"d":"d"},{"i":329,"v":17,"d":"d"},{"i":330,"v":11,"d":"u"},{"i":331,"v":17,"d":"d"},{"i":332,"v":25,"d":"d"},{"i":333,"v":31,"d":"u"},{"i":334,"v":35,"d":"u"},{"i":335,"v":10,"d":"u"},{"i":336,"v":11,"d":"d"},{"i":337,"v":17,"d":"d"},{"i":338,"v":22,"d":"u"},{"i":339,"v":33,"d":"u"},{"i":340,"v":41,"d":"u"},{"i":341,"v":20,"d":"u"},{"i":342,"v":13,"d":"d"},{"i":343,"v":16.1,"d":"d"}
],
"rsi":[
{"i":-2,"r":66.9},{"i":-1,"r":64.3},{"i":0,"r":65.6},{"i":1,"r":67.6},{"i":2,"r":66.9},{"i":3,"r":65},{"i":4,"r":61.7},{"i":5,"r":57.8},{"i":6,"r":58.6},{"i":7,"r":59.9},{"i":8,"r":61.7},{"i":9,"r":63.5},{"i":10,"r":67.6},{"i":11,"r":68.7},{"i":12,"r":70.8},{"i":13,"r":72},{"i":14,"r":74.1},{"i":15,"r":76.5},{"i":16,"r":77},{"i":17,"r":76.7},{"i":18,"r":74.6},{"i":19,"r":72.8},{"i":20,"r":70},{"i":21,"r":70.2},{"i":22,"r":70.8},{"i":23,"r":72},{"i":24,"r":65.6},{"i":25,"r":51.3},{"i":26,"r":53.9},{"i":27,"r":54.7},{"i":28,"r":48.7},{"i":29,"r":43.5},{"i":30,"r":39.6},{"i":31,"r":39.6},{"i":32,"r":54.7},{"i":33,"r":51.3},{"i":34,"r":48.7},{"i":35,"r":48.4},{"i":36,"r":51.3},{"i":37,"r":53.1},{"i":38,"r":53.9},{"i":39,"r":56.5},{"i":40,"r":60.4},{"i":41,"r":59.1},{"i":42,"r":63},{"i":43,"r":63.7},{"i":44,"r":65},{"i":45,"r":66.9},{"i":46,"r":71.3},{"i":47,"r":68.2},{"i":48,"r":65},{"i":49,"r":66.9},
{"i":50,"r":55.2},{"i":51,"r":24.1},{"i":52,"r":22.8},{"i":53,"r":26.7},{"i":54,"r":31.8},{"i":55,"r":34.4},{"i":56,"r":35.2},{"i":57,"r":29.2},{"i":58,"r":25.4},{"i":59,"r":24.8},{"i":60,"r":25.4},{"i":61,"r":24.8},{"i":62,"r":25.9},{"i":63,"r":24.6},{"i":64,"r":23.3},{"i":65,"r":29.2},{"i":66,"r":35.7},{"i":67,"r":37},{"i":68,"r":35.7},{"i":69,"r":37.5},{"i":70,"r":36.3},{"i":71,"r":37.5},{"i":72,"r":36.5},{"i":73,"r":35.7},{"i":74,"r":22},{"i":75,"r":24.1},{"i":76,"r":23.3},{"i":77,"r":22},{"i":78,"r":21.5},{"i":79,"r":32.4},{"i":80,"r":33.1},{"i":81,"r":34.4},{"i":82,"r":40.9},{"i":83,"r":41.7},{"i":84,"r":40.9},{"i":85,"r":44.3},{"i":86,"r":41.7},{"i":87,"r":44.3},{"i":88,"r":42.7},{"i":89,"r":43.5},{"i":90,"r":45.3},{"i":91,"r":42.7},{"i":92,"r":35.7},{"i":93,"r":35.7},{"i":94,"r":39.1},{"i":95,"r":35.7},{"i":96,"r":31.8},{"i":97,"r":29.2},{"i":98,"r":30.5},{"i":99,"r":27.9},
{"i":100,"r":29.2},{"i":101,"r":29.8},{"i":102,"r":27.2},{"i":103,"r":22.8},{"i":104,"r":26.7},{"i":105,"r":24.1},{"i":106,"r":22},{"i":107,"r":22},{"i":108,"r":20.2},{"i":109,"r":18.9},{"i":110,"r":26.7},{"i":111,"r":37.5},{"i":112,"r":35.7},{"i":113,"r":37},{"i":114,"r":36.3},{"i":115,"r":42.7},{"i":116,"r":40.9},{"i":117,"r":39.1},{"i":118,"r":37.5},{"i":119,"r":35.7},{"i":120,"r":37.5},{"i":121,"r":39.6},{"i":122,"r":38.3},{"i":123,"r":40.1},{"i":124,"r":38.3},{"i":125,"r":40.9},{"i":126,"r":49.5},{"i":127,"r":51.3},{"i":128,"r":51.3},{"i":129,"r":37},{"i":130,"r":33.1},{"i":131,"r":33.1},{"i":132,"r":29.2},{"i":133,"r":26.7},{"i":134,"r":27.9},{"i":135,"r":28.5},{"i":136,"r":26.7},{"i":137,"r":24.6},{"i":138,"r":26.7},{"i":139,"r":27.2},{"i":140,"r":40.1},{"i":141,"r":31.8},{"i":142,"r":30.5},{"i":143,"r":30.5},{"i":144,"r":31.3},{"i":145,"r":31.3},{"i":146,"r":29.2},{"i":147,"r":24.1},{"i":148,"r":22},{"i":149,"r":20.2},
{"i":150,"r":18.9},{"i":151,"r":15},{"i":152,"r":13.7},{"i":153,"r":16.3},{"i":154,"r":30.5},{"i":155,"r":31.3},{"i":156,"r":38.3},{"i":157,"r":40.1},{"i":158,"r":39.1},{"i":159,"r":36.3},{"i":160,"r":44.3},{"i":161,"r":40.9},{"i":162,"r":43.5},{"i":163,"r":56},{"i":164,"r":55.2},{"i":165,"r":55.7},{"i":166,"r":55.7},{"i":167,"r":51.8},{"i":168,"r":50},{"i":169,"r":50.8},{"i":170,"r":51.3},{"i":171,"r":54.7},{"i":172,"r":55.7},{"i":173,"r":56.7},{"i":174,"r":57.3},{"i":175,"r":53.9},{"i":176,"r":55.2},{"i":177,"r":52.6},{"i":178,"r":51.6},{"i":179,"r":51.6},{"i":180,"r":53.1},{"i":181,"r":56},{"i":182,"r":58.8},{"i":183,"r":56.5},{"i":184,"r":53.9},{"i":185,"r":52.6},{"i":186,"r":55.2},{"i":187,"r":58.3},{"i":188,"r":58.8},{"i":189,"r":55.2},{"i":190,"r":50},{"i":191,"r":51.3},{"i":192,"r":53.9},{"i":193,"r":51.3},{"i":194,"r":53.9},{"i":195,"r":53.9},{"i":196,"r":51.8},{"i":197,"r":53.9},{"i":198,"r":54.7},{"i":199,"r":55.7},
{"i":200,"r":57.8},{"i":201,"r":68.2},{"i":202,"r":70},{"i":203,"r":69.5},{"i":204,"r":68.2},{"i":205,"r":65.6},{"i":206,"r":62.5},{"i":207,"r":50},{"i":208,"r":55.2},{"i":209,"r":52.6},{"i":210,"r":55.7},{"i":211,"r":42.2},{"i":212,"r":40.9},{"i":213,"r":41.7},{"i":214,"r":47.4},{"i":215,"r":48.7},{"i":216,"r":48.7},{"i":217,"r":52.6},{"i":218,"r":50},{"i":219,"r":42.2},{"i":220,"r":40.1},{"i":221,"r":40.9},{"i":222,"r":44.3},{"i":223,"r":47.4},{"i":224,"r":50},{"i":225,"r":46.1},{"i":226,"r":44.3},{"i":227,"r":44.3},{"i":228,"r":46.1},{"i":229,"r":44.3},{"i":230,"r":52.6},{"i":231,"r":55.7},{"i":232,"r":55.2},{"i":233,"r":53.1},{"i":234,"r":51.3},{"i":235,"r":52.6},{"i":236,"r":50},{"i":237,"r":51.3},{"i":238,"r":47.4},{"i":239,"r":43.5},{"i":240,"r":37.5},{"i":241,"r":40.1},{"i":242,"r":40.9},{"i":243,"r":47.4},{"i":244,"r":53.1},{"i":245,"r":51.3},{"i":246,"r":54.7},{"i":247,"r":51.3},{"i":248,"r":57.8},{"i":249,"r":51.3},
{"i":250,"r":49.2},{"i":251,"r":48.4},{"i":252,"r":50},{"i":253,"r":52.1},{"i":254,"r":52.6},{"i":255,"r":54.7},{"i":256,"r":51.3},{"i":257,"r":51.3},{"i":258,"r":53.9},{"i":259,"r":55.2},{"i":260,"r":55.2},{"i":261,"r":62.5},{"i":262,"r":56.5},{"i":263,"r":52.6},{"i":264,"r":50.5},{"i":265,"r":51.3},{"i":266,"r":56.5},{"i":267,"r":64.3},{"i":268,"r":65.6},{"i":269,"r":65.6},{"i":270,"r":60.4},{"i":271,"r":66.9},{"i":272,"r":69.5},{"i":273,"r":70},{"i":274,"r":66.1},{"i":275,"r":66.9},{"i":276,"r":67.6},{"i":277,"r":52.6},{"i":278,"r":49.5},{"i":279,"r":46.1},{"i":280,"r":43.5},{"i":281,"r":40.9},{"i":282,"r":38.3},{"i":283,"r":42.2},{"i":284,"r":39.6},{"i":285,"r":38.3},{"i":286,"r":33.1},{"i":287,"r":31.3},{"i":288,"r":30.5},{"i":289,"r":30.5},{"i":290,"r":30.5},{"i":291,"r":27.9},{"i":292,"r":36.3},{"i":293,"r":33.1},{"i":294,"r":30.5},{"i":295,"r":30.5},{"i":296,"r":28.7},{"i":297,"r":35},{"i":298,"r":26.7},{"i":299,"r":25.4},
{"i":300,"r":33.9},{"i":301,"r":38.3},{"i":302,"r":41.4},{"i":303,"r":40.9},{"i":304,"r":39.6},{"i":305,"r":40.9},{"i":306,"r":44},{"i":307,"r":41.7},{"i":308,"r":45.3},{"i":309,"r":38.3},{"i":310,"r":33.7},{"i":311,"r":33.1},{"i":312,"r":31.8},{"i":313,"r":26.1},{"i":314,"r":35.7},{"i":315,"r":40.9},{"i":316,"r":39.6},{"i":317,"r":46.1},{"i":318,"r":49.5},{"i":319,"r":50},{"i":320,"r":47.9},{"i":321,"r":42.7},{"i":322,"r":46.1},{"i":323,"r":40.9},{"i":324,"r":35.7},{"i":325,"r":35},{"i":326,"r":34.4},{"i":327,"r":34.4},{"i":328,"r":33.1},{"i":329,"r":31.8},{"i":330,"r":30.5},{"i":331,"r":28.7},{"i":332,"r":30.5},{"i":333,"r":37},{"i":334,"r":37.5},{"i":335,"r":38.3},{"i":336,"r":38.8},{"i":337,"r":38.8},{"i":338,"r":40.9},{"i":339,"r":52.6},{"i":340,"r":60.9},{"i":341,"r":53.9},{"i":342,"r":48.7},{"i":343,"r":52.67}
],
"rsima":[
{"i":-2,"m":68.2},{"i":3.5,"m":65},{"i":9.3,"m":62.2},{"i":13.7,"m":64.3},{"i":18,"m":67.4},{"i":23.9,"m":72},{"i":26.8,"m":68.2},{"i":32.6,"m":56.5},{"i":38.5,"m":49.5},{"i":42.8,"m":51.3},{"i":50,"m":62.2},{"i":57.4,"m":48.7},{"i":63.2,"m":28.7},{"i":66,"m":26.7},{"i":74.9,"m":30.5},{"i":82,"m":31.3},{"i":88,"m":34.4},{"i":92.4,"m":40.1},{"i":96.7,"m":40.9},{"i":104,"m":31.8},{"i":111.3,"m":24.8},{"i":117,"m":29.2},{"i":123,"m":36.5},{"i":129.5,"m":42.2},{"i":136,"m":39.1},{"i":143.3,"m":30.5},{"i":149,"m":26.7},{"i":155,"m":24.8},{"i":162,"m":30.5},{"i":168,"m":46.1},{"i":174,"m":52.6},{"i":183,"m":54.7},{"i":193,"m":54.7},{"i":202,"m":56.5},{"i":206,"m":59.9},{"i":210,"m":59.9},{"i":216,"m":53.9},{"i":224,"m":46.9},{"i":229,"m":46.1},{"i":237,"m":50},{"i":243,"m":48.7},{"i":250,"m":48.2},{"i":257,"m":51.3},{"i":264,"m":53.1},{"i":272,"m":57.8},{"i":277,"m":61.9},{"i":280,"m":61.7},{"i":286,"m":51.3},{"i":291,"m":37},{"i":292,"m":36.3},{"i":299,"m":30.5},{"i":307,"m":35.7},{"i":314,"m":37.5},{"i":318,"m":38.3},{"i":328,"m":40.9},{"i":334,"m":37},{"i":339,"m":35},{"i":343,"m":41.99}
],
"oversold":[
{"g":1,"i":50.8,"r":30},{"g":1,"i":51,"r":24.1},{"g":1,"i":52,"r":22.8},{"g":1,"i":53,"r":26.7},{"g":1,"i":53.6,"r":30},
{"g":2,"i":56.8,"r":30},{"g":2,"i":57,"r":29.2},{"g":2,"i":58,"r":25.4},{"g":2,"i":59,"r":24.8},{"g":2,"i":60,"r":25.4},{"g":2,"i":61,"r":24.8},{"g":2,"i":62,"r":25.9},{"g":2,"i":63,"r":24.6},{"g":2,"i":64,"r":23.3},{"g":2,"i":65,"r":29.2},{"g":2,"i":65.2,"r":30},
{"g":3,"i":73.2,"r":30},{"g":3,"i":74,"r":22},{"g":3,"i":75,"r":24.1},{"g":3,"i":76,"r":23.3},{"g":3,"i":77,"r":22},{"g":3,"i":78,"r":21.5},{"g":3,"i":78.8,"r":30},
{"g":4,"i":96.6,"r":30},{"g":4,"i":97,"r":29.2},{"g":4,"i":98,"r":30},{"g":4,"i":99,"r":27.9},{"g":4,"i":100,"r":29.2},{"g":4,"i":101,"r":29.8},{"g":4,"i":102,"r":27.2},{"g":4,"i":103,"r":22.8},{"g":4,"i":104,"r":26.7},{"g":4,"i":105,"r":24.1},{"g":4,"i":106,"r":22},{"g":4,"i":107,"r":22},{"g":4,"i":108,"r":20.2},{"g":4,"i":109,"r":18.9},{"g":4,"i":110,"r":26.7},{"g":4,"i":110.3,"r":30},
{"g":5,"i":131.9,"r":30},{"g":5,"i":132,"r":29.2},{"g":5,"i":133,"r":26.7},{"g":5,"i":134,"r":27.9},{"g":5,"i":135,"r":28.5},{"g":5,"i":136,"r":26.7},{"g":5,"i":137,"r":24.6},{"g":5,"i":138,"r":26.7},{"g":5,"i":139,"r":27.2},{"g":5,"i":139.3,"r":30},
{"g":6,"i":145.7,"r":30},{"g":6,"i":146,"r":29.2},{"g":6,"i":147,"r":24.1},{"g":6,"i":148,"r":22},{"g":6,"i":149,"r":20.2},{"g":6,"i":150,"r":18.9},{"g":6,"i":151,"r":15},{"g":6,"i":152,"r":13.7},{"g":6,"i":153,"r":16.3},{"g":6,"i":153.9,"r":30},
{"g":7,"i":297.7,"r":30},{"g":7,"i":298,"r":26.7},{"g":7,"i":299,"r":25.4},{"g":7,"i":299.6,"r":30},
{"g":8,"i":312.4,"r":30},{"g":8,"i":313,"r":26.1},{"g":8,"i":313.6,"r":30}
],
"overbought":[
{"g":1,"i":11.6,"r":70},{"g":1,"i":12,"r":70.8},{"g":1,"i":13,"r":72},{"g":1,"i":14,"r":74.1},{"g":1,"i":15,"r":76.5},{"g":1,"i":16,"r":77},{"g":1,"i":17,"r":76.7},{"g":1,"i":18,"r":74.6},{"g":1,"i":19,"r":72.8},{"g":1,"i":20,"r":70},
{"g":2,"i":21,"r":70.2},{"g":2,"i":22,"r":70.8},{"g":2,"i":23,"r":72},{"g":2,"i":23.3,"r":70}
],
"zones":[
{"zone":"blue","from":128.5,"to":350.5,"lo":110.84,"hi":112,"mid":111.4},
{"zone":"green","from":151.2,"to":389.4,"lo":101.59,"hi":102.33,"mid":101.95}
],
"pricetags":[
{"k":"jpy","from":421,"to":433,"lo":114.46,"hi":115.15},
{"k":"down","from":379.4,"to":419.6,"lo":104.4,"hi":104.77},
{"k":"down","from":420.4,"to":436.6,"lo":104.4,"hi":104.77},
{"k":"last","from":405.2,"to":419.6,"lo":104.03,"hi":104.37},
{"k":"last","from":420.4,"to":437.9,"lo":103.73,"hi":104.37},
{"k":"up","from":383.7,"to":419.6,"lo":102.85,"hi":103.2},
{"k":"up","from":420.4,"to":436.6,"lo":102.85,"hi":103.2},
{"k":"last","from":405.2,"to":419.6,"lo":99.27,"hi":99.62},
{"k":"last","from":420.4,"to":437,"lo":99.27,"hi":99.62}
],
"pricetexts":[
{"t":"JPY","x":423.5,"p":114.79,"k":"jpy"},
{"t":"Supertrend:Down Trend","x":380.7,"p":104.585,"k":"down"},
{"t":"104.555","x":422.2,"p":104.585,"k":"down"},
{"t":"CADJPY","x":406.5,"p":104.2,"k":"last"},
{"t":"104.248","x":422.2,"p":104.2,"k":"last"},
{"t":"02:12:24","x":422.2,"p":103.9,"k":"last"},
{"t":"Supertrend:Up Trend","x":385,"p":103.03,"k":"up"},
{"t":"103.068","x":422.2,"p":103.03,"k":"up"},
{"t":"Volume","x":406.9,"p":99.44,"k":"last"},
{"t":"16.112 K","x":422.6,"p":99.44,"k":"last"}
],
"rsitags":[
{"k":"rsi","from":412.2,"to":419.6,"lo":48.2,"hi":56.8},
{"k":"rsi","from":420.4,"to":432.7,"lo":48.2,"hi":56.8},
{"k":"ma","from":396,"to":419.6,"lo":38.1,"hi":46.7},
{"k":"ma","from":420.4,"to":432.7,"lo":38.1,"hi":46.7}
],
"rsitexts":[
{"t":"RSI","x":413.5,"p":52.5,"k":"rsi"},
{"t":"52.67","x":422.2,"p":52.5,"k":"rsi"},
{"t":"RSI-based MA","x":397.7,"p":42.4,"k":"ma"},
{"t":"41.99","x":422.2,"p":42.4,"k":"ma"}
],
"levels":[{"v":70},{"v":50},{"v":30}],
"band":[{"lo":30,"hi":70,"a":-2.2,"b":420}],
"lastprice":[{"p":104.248,"a":-2.2,"b":420}],
"edge":[{"x":439.2}],
"frame":[{"a":-2.2,"b":439.2,"r":7.7,"c":"axis"},{"a":-2.2,"b":439.2,"r":-8.2,"c":"band"}],
"brand":[{"t":"TradingView","x":4.4,"r":-17}],
"logo":[{"x":0.7,"r":-17}],
"bolt":[{"i":344.4,"p":99.43}],
"record":[{"i":354.4,"p":99.43}]
},
"vconcat":[
{
"width":966,
"height":471,
"resolve":{"scale":{"y":"independent"},"axis":{"y":"independent"}},
"layer":[
{
"data":{"name":"volume"},
"mark":{"type":"rule","strokeWidth":1.8,"opacity":0.38,"clip":true},
"encoding":{
"x":{"field":"i","type":"quantitative","scale":{"domain":[-2.2,420],"nice":false,"zero":false},"axis":null},
"y":{"field":"v","type":"quantitative","scale":{"domain":[0,471],"nice":false},"axis":null},
"y2":{"datum":0},
"color":{"condition":{"test":"datum.d=='u'","value":"#26a69a"},"value":"#ef5350"}
}
},
{
"data":{"name":"candles"},
"mark":{"type":"area","orient":"vertical","opacity":0.1,"clip":true},
"encoding":{
"x":{"field":"i","type":"quantitative","axis":null},
"y":{"field":"st","type":"quantitative","title":null,"scale":{"type":"log","domain":[99.18,115.12],"nice":false},"axis":{"orient":"right","title":null,"values":[100,100.7,101.4,102.2,105,106,107,108,109,110,111,112,113,114],"format":".3f","ticks":false,"grid":false,"domainColor":"#e0e3eb","labelPadding":6,"labelOverlap":false,"labelFlush":false}},
"y2":{"field":"o"},
"detail":{"field":"seg"},
"color":{"condition":{"test":"datum.seg=='u1'||datum.seg=='u2'||datum.seg=='u3'","value":"#4caf50"},"value":"#ff5252"}
}
},
{
"data":{"name":"candles"},
"mark":{"type":"line","strokeWidth":1,"opacity":0.55,"clip":true},
"encoding":{
"x":{"field":"i","type":"quantitative","axis":null},
"y":{"field":"st","type":"quantitative","scale":{"type":"log","domain":[99.18,115.12],"nice":false},"axis":null},
"detail":{"field":"seg"},
"color":{"condition":{"test":"datum.seg=='u1'||datum.seg=='u2'||datum.seg=='u3'","value":"#4caf50"},"value":"#ff5252"}
}
},
{
"data":{"name":"lastprice"},
"mark":{"type":"rule","strokeWidth":1,"strokeDash":[1,2],"color":"#26a69a","opacity":0.9},
"encoding":{
"x":{"field":"a","type":"quantitative","axis":null},
"x2":{"field":"b"},
"y":{"field":"p","type":"quantitative","scale":{"type":"log","domain":[99.18,115.12],"nice":false},"axis":null}
}
},
{
"data":{"name":"candles"},
"mark":{"type":"rule","strokeWidth":1,"opacity":0.5,"clip":true},
"encoding":{
"x":{"field":"i","type":"quantitative","axis":null},
"y":{"field":"h","type":"quantitative","scale":{"type":"log","domain":[99.18,115.12],"nice":false},"axis":null},
"y2":{"field":"l"},
"color":{"condition":{"test":"datum.c>=datum.o","value":"#26a69a"},"value":"#ef5350"}
}
},
{
"data":{"name":"candles"},
"mark":{"type":"rule","strokeWidth":2,"clip":true},
"encoding":{
"x":{"field":"i","type":"quantitative","axis":null},
"y":{"field":"o","type":"quantitative","scale":{"type":"log","domain":[99.18,115.12],"nice":false},"axis":null},
"y2":{"field":"c"},
"color":{"condition":{"test":"datum.c>=datum.o","value":"#26a69a"},"value":"#ef5350"}
}
},
{
"data":{"name":"zones"},
"mark":{"type":"rect","opacity":0.28},
"encoding":{
"x":{"field":"from","type":"quantitative","axis":null},
"x2":{"field":"to"},
"y":{"field":"lo","type":"quantitative","scale":{"type":"log","domain":[99.18,115.12],"nice":false},"axis":null},
"y2":{"field":"hi"},
"color":{"condition":{"test":"datum.zone=='blue'","value":"#2962ff"},"value":"#4caf50"}
}
},
{
"data":{"name":"zones"},
"mark":{"type":"rule","strokeWidth":1,"strokeDash":[4,4],"color":"#9c6ade"},
"encoding":{
"x":{"field":"from","type":"quantitative","axis":null},
"x2":{"field":"to"},
"y":{"field":"mid","type":"quantitative","scale":{"type":"log","domain":[99.18,115.12],"nice":false},"axis":null}
}
},
{
"data":{"name":"pricetags"},
"mark":{"type":"rect"},
"encoding":{
"x":{"field":"from","type":"quantitative","axis":null},
"x2":{"field":"to"},
"y":{"field":"lo","type":"quantitative","scale":{"type":"log","domain":[99.18,115.12],"nice":false},"axis":null},
"y2":{"field":"hi"},
"stroke":{"condition":{"test":"datum.k=='jpy'","value":"#e0e3eb"},"value":null},
"fill":{"field":"k","type":"nominal","legend":null,"scale":{"domain":["jpy","down","last","up","rsi","ma"],"range":["#ffffff","#ff5252","#26a69a","#4caf50","#7e57c2","#ffeb3b"]}}
}
},
{
"data":{"name":"pricetexts"},
"mark":{"type":"text","align":"left","baseline":"middle","fontSize":8,"font":"Roboto"},
"encoding":{
"x":{"field":"x","type":"quantitative","axis":null},
"y":{"field":"p","type":"quantitative","scale":{"type":"log","domain":[99.18,115.12],"nice":false},"axis":null},
"text":{"field":"t"},
"color":{"condition":{"test":"datum.k=='jpy'","value":"#434651"},"value":"#ffffff"}
}
},
{
"data":{"name":"bolt"},
"mark":{"type":"point","shape":"circle","filled":false,"size":170,"strokeWidth":1.2,"color":"#9c27b0"},
"encoding":{
"x":{"field":"i","type":"quantitative","axis":null},
"y":{"field":"p","type":"quantitative","scale":{"type":"log","domain":[99.18,115.12],"nice":false},"axis":null}
}
},
{
"data":{"name":"bolt"},
"mark":{"type":"point","shape":"M0.15,-0.7 L-0.35,0.1 L-0.02,0.1 L-0.15,0.7 L0.35,-0.1 L0.02,-0.1 Z","filled":true,"size":170,"color":"#9c27b0","opacity":1},
"encoding":{
"x":{"field":"i","type":"quantitative","axis":null},
"y":{"field":"p","type":"quantitative","scale":{"type":"log","domain":[99.18,115.12],"nice":false},"axis":null}
}
},
{
"data":{"name":"record"},
"mark":{"type":"point","shape":"circle","filled":false,"size":240,"strokeWidth":1.6,"color":"#f23645"},
"encoding":{
"x":{"field":"i","type":"quantitative","axis":null},
"y":{"field":"p","type":"quantitative","scale":{"type":"log","domain":[99.18,115.12],"nice":false},"axis":null}
}
},
{
"data":{"name":"record"},
"mark":{"type":"point","shape":"circle","filled":true,"size":30,"color":"#f23645","opacity":1},
"encoding":{
"x":{"field":"i","type":"quantitative","axis":null},
"y":{"field":"p","type":"quantitative","scale":{"type":"log","domain":[99.18,115.12],"nice":false},"axis":null}
}
},
{
"data":{"name":"edge"},
"mark":{"type":"rule","color":"#f0f3fa","strokeWidth":1},
"encoding":{"x":{"field":"x","type":"quantitative","axis":null}}
}
]
},
{
"width":966,
"height":99,
"layer":[
{
"data":{"name":"band"},
"mark":{"type":"rect","color":"#7e57c2","opacity":0.12},
"encoding":{
"x":{"field":"a","type":"quantitative","scale":{"domain":[-2.2,420],"nice":false,"zero":false},"title":null,"axis":{"values":[0,30,60,90,114,138,180,210,240,270,300,330,360,396],"labelExpr":"{'0':'Jul','30':'8','60':'15','90':'22','114':'26','138':'Aug','180':'12','210':'19','240':'26','270':'Sep','300':'9','330':'16','360':'23','396':'Oct'}[datum.value]","ticks":false,"grid":false,"domainColor":"#e0e3eb","labelPadding":5,"labelOverlap":false,"labelFlush":false,"labelFontSize":9,"title":null}},
"x2":{"field":"b"},
"y":{"field":"lo","type":"quantitative","scale":{"domain":[7.7,84.8],"nice":false,"zero":false},"axis":{"orient":"right","title":null,"values":[20,60,80],"format":".2f","ticks":false,"grid":false,"domainColor":"#e0e3eb","labelPadding":6,"labelOverlap":false,"labelFlush":false}},
"y2":{"field":"hi"}
}
},
{
"data":{"name":"levels"},
"mark":{"type":"rule","strokeWidth":1,"strokeDash":[4,4],"color":"#787b86","opacity":0.75},
"encoding":{"y":{"field":"v","type":"quantitative"}}
},
{
"data":{"name":"oversold"},
"mark":{"type":"area","orient":"vertical","color":{"gradient":"linear","x1":0,"y1":0,"x2":0,"y2":1,"stops":[{"offset":0,"color":"#fde4e4"},{"offset":1,"color":"#fb8c8c"}]}},
"encoding":{
"x":{"field":"i","type":"quantitative"},
"y":{"field":"r","type":"quantitative"},
"y2":{"datum":30},
"detail":{"field":"g"}
}
},
{
"data":{"name":"overbought"},
"mark":{"type":"area","orient":"vertical","color":"#d5ecd8"},
"encoding":{
"x":{"field":"i","type":"quantitative"},
"y":{"field":"r","type":"quantitative"},
"y2":{"datum":70},
"detail":{"field":"g"}
}
},
{
"data":{"name":"rsima"},
"mark":{"type":"line","color":"#fdeb6a","strokeWidth":1.1,"interpolate":"monotone"},
"encoding":{
"x":{"field":"i","type":"quantitative"},
"y":{"field":"m","type":"quantitative"}
}
},
{
"data":{"name":"rsi"},
"mark":{"type":"line","color":"#8f74d0","strokeWidth":1},
"encoding":{
"x":{"field":"i","type":"quantitative"},
"y":{"field":"r","type":"quantitative"}
}
},
{
"data":{"name":"rsitags"},
"mark":{"type":"rect"},
"encoding":{
"x":{"field":"from","type":"quantitative"},
"x2":{"field":"to"},
"y":{"field":"lo","type":"quantitative"},
"y2":{"field":"hi"},
"fill":{"field":"k","type":"nominal","legend":null,"scale":{"domain":["jpy","down","last","up","rsi","ma"],"range":["#ffffff","#ff5252","#26a69a","#4caf50","#7e57c2","#ffeb3b"]}}
}
},
{
"data":{"name":"rsitexts"},
"mark":{"type":"text","align":"left","baseline":"middle","fontSize":8,"font":"Roboto"},
"encoding":{
"x":{"field":"x","type":"quantitative"},
"y":{"field":"p","type":"quantitative"},
"text":{"field":"t"},
"color":{"condition":{"test":"datum.k=='ma'","value":"#2a2e39"},"value":"#ffffff"}
}
},
{
"data":{"name":"frame"},
"mark":{"type":"rule"},
"encoding":{
"x":{"field":"a","type":"quantitative"},
"x2":{"field":"b"},
"y":{"field":"r","type":"quantitative"},
"color":{"condition":{"test":"datum.c=='axis'","value":"#e0e3eb"},"value":"#f0f3fa"},
"strokeWidth":{"condition":{"test":"datum.c=='axis'","value":1},"value":2.5}
}
},
{
"data":{"name":"edge"},
"mark":{"type":"rule","color":"#f0f3fa","strokeWidth":1},
"encoding":{"x":{"field":"x","type":"quantitative"}}
},
{
"data":{"name":"brand"},
"mark":{"type":"text","align":"left","baseline":"middle","fontSize":9.5,"font":"Roboto","color":"#6a6d78"},
"encoding":{
"x":{"field":"x","type":"quantitative"},
"y":{"field":"r","type":"quantitative"},
"text":{"field":"t"}
}
},
{
"data":{"name":"logo"},
"mark":{"type":"point","shape":"M-1,-0.45 H-0.2 V0.45 H-0.6 V-0.05 H-1 Z M0.05,-0.45 A0.15,0.15 0 1 1 0.05,-0.15 A0.15,0.15 0 1 1 0.05,-0.45 M0.5,-0.45 H1 L0.6,0.45 H0.1 Z","filled":true,"size":170,"color":"#131722","opacity":1},
"encoding":{
"x":{"field":"x","type":"quantitative"},
"y":{"field":"r","type":"quantitative"}
}
}
]
}
]
}
